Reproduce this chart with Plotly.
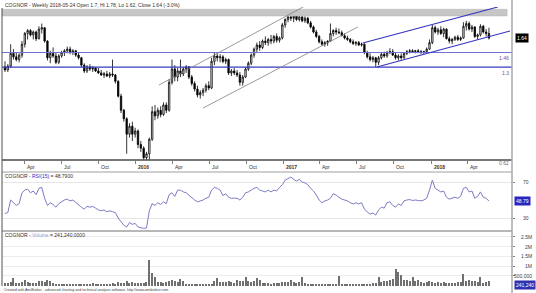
import math
import pandas as pd
import plotly.graph_objects as go

# ---------------- data ----------------
start_date = "2015-02-12"   # first weekly bar

opens = [1.30,1.27,1.31,1.45,1.41,1.38,1.43,1.56,1.70,1.74,
         1.68,1.72,1.63,1.76,1.78,1.60,1.40,1.45,1.42,1.35,
         1.42,1.46,1.48,1.50,1.46,1.48,1.43,1.40,1.32,1.26,
         1.30,1.28,1.29,1.26,1.24,1.22,1.23,1.21,1.23,1.22,
         1.16,1.03,0.92,0.86,0.76,0.81,0.76,0.78,0.70,0.68,
         0.63,0.65,0.73,0.91,0.88,0.92,0.89,0.96,0.92,1.15,
         1.28,1.20,1.26,1.23,1.28,1.30,1.20,1.14,1.09,1.04,
         1.06,1.08,1.12,1.10,1.36,1.42,1.40,1.41,1.36,1.38,
         1.24,1.26,1.24,1.22,1.15,1.20,1.28,1.34,1.43,1.50,
         1.55,1.52,1.60,1.58,1.62,1.60,1.66,1.61,1.64,1.82,
         1.90,1.94,1.92,1.95,1.90,1.94,1.88,1.92,1.85,1.79,
         1.72,1.66,1.59,1.56,1.58,1.60,1.70,1.74,1.72,1.71,
         1.67,1.64,1.62,1.59,1.57,1.58,1.55,1.56,1.46,1.41,
         1.38,1.40,1.35,1.40,1.44,1.42,1.46,1.47,1.43,1.40,
         1.42,1.40,1.45,1.47,1.48,1.47,1.48,1.47,1.46,1.47,
         1.50,1.58,1.78,1.72,1.75,1.70,1.76,1.63,1.60,1.62,
         1.65,1.62,1.64,1.80,1.84,1.76,1.79,1.66,1.68,1.80,
         1.72,1.70]
highs = [1.36,1.33,1.56,1.50,1.46,1.45,1.60,1.72,1.76,1.76,
         1.74,1.74,1.80,1.84,1.79,1.61,1.48,1.52,1.46,1.44,
         1.48,1.50,1.53,1.53,1.50,1.49,1.46,1.41,1.34,1.32,
         1.33,1.31,1.30,1.29,1.27,1.25,1.26,1.25,1.38,1.23,
         1.17,1.05,0.93,0.87,0.83,0.84,0.80,0.79,0.72,0.69,
         0.66,0.74,0.95,0.96,0.94,0.95,0.98,0.98,1.18,1.38,
         1.32,1.29,1.38,1.30,1.32,1.31,1.22,1.16,1.12,1.08,
         1.10,1.14,1.16,1.40,1.46,1.45,1.44,1.43,1.40,1.39,
         1.28,1.29,1.27,1.25,1.22,1.30,1.36,1.45,1.52,1.58,
         1.60,1.62,1.66,1.64,1.68,1.68,1.70,1.66,1.85,1.92,
         1.98,2.00,1.97,1.99,1.97,1.96,1.95,1.94,1.88,1.81,
         1.75,1.68,1.62,1.60,1.61,1.84,1.76,1.78,1.77,1.74,
         1.70,1.67,1.64,1.62,1.60,1.60,1.58,1.57,1.48,1.45,
         1.42,1.41,1.42,1.46,1.47,1.48,1.51,1.50,1.46,1.44,
         1.45,1.46,1.49,1.50,1.50,1.49,1.50,1.49,1.48,1.52,
         1.62,1.82,1.81,1.78,1.80,1.78,1.77,1.66,1.64,1.67,
         1.68,1.66,1.86,1.88,1.87,1.82,1.80,1.70,1.83,1.82,
         1.76,1.78]
lows = [1.25,1.25,1.29,1.38,1.36,1.35,1.40,1.52,1.62,1.66,
        1.62,1.60,1.62,1.70,1.58,1.37,1.34,1.40,1.33,1.33,
        1.40,1.42,1.45,1.44,1.43,1.41,1.38,1.30,1.24,1.24,
        1.26,1.25,1.25,1.23,1.21,1.19,1.20,1.19,1.20,1.14,
        1.02,0.90,0.84,0.65,0.74,0.72,0.74,0.68,0.66,0.62,
        0.62,0.62,0.72,0.85,0.86,0.87,0.88,0.90,0.91,1.13,
        1.16,1.16,1.20,1.21,1.24,1.18,1.12,1.07,1.02,1.01,
        1.03,1.06,1.08,1.09,1.32,1.36,1.35,1.34,1.33,1.22,
        1.21,1.22,1.20,1.12,1.12,1.19,1.26,1.32,1.40,1.46,
        1.48,1.50,1.55,1.54,1.56,1.57,1.58,1.58,1.62,1.78,
        1.86,1.88,1.86,1.88,1.87,1.86,1.85,1.83,1.77,1.70,
        1.64,1.57,1.54,1.53,1.54,1.59,1.66,1.68,1.69,1.66,
        1.62,1.60,1.57,1.55,1.54,1.54,1.53,1.44,1.39,1.36,
        1.35,1.30,1.32,1.38,1.40,1.40,1.44,1.42,1.38,1.37,
        1.38,1.39,1.43,1.45,1.46,1.45,1.46,1.44,1.44,1.45,
        1.49,1.56,1.70,1.68,1.68,1.65,1.62,1.57,1.56,1.60,
        1.60,1.60,1.63,1.74,1.74,1.72,1.64,1.62,1.66,1.70,
        1.66,1.62]
closes = [1.27,1.31,1.45,1.41,1.38,1.43,1.56,1.70,1.74,1.68,
          1.72,1.63,1.76,1.78,1.60,1.40,1.45,1.42,1.35,1.42,
          1.46,1.48,1.50,1.46,1.48,1.43,1.40,1.32,1.26,1.30,
          1.28,1.29,1.26,1.24,1.22,1.23,1.21,1.23,1.22,1.16,
          1.03,0.92,0.86,0.76,0.81,0.76,0.78,0.70,0.68,0.63,
          0.65,0.73,0.91,0.88,0.92,0.89,0.96,0.92,1.15,1.28,
          1.20,1.26,1.23,1.28,1.30,1.20,1.14,1.09,1.04,1.06,
          1.08,1.12,1.10,1.36,1.42,1.40,1.41,1.36,1.38,1.24,
          1.26,1.24,1.22,1.15,1.20,1.28,1.34,1.43,1.50,1.55,
          1.52,1.60,1.58,1.62,1.60,1.66,1.61,1.64,1.82,1.90,
          1.94,1.92,1.95,1.90,1.94,1.88,1.92,1.85,1.79,1.72,
          1.66,1.59,1.56,1.58,1.60,1.70,1.74,1.72,1.71,1.67,
          1.64,1.62,1.59,1.57,1.58,1.55,1.56,1.46,1.41,1.38,
          1.40,1.35,1.40,1.44,1.42,1.46,1.47,1.43,1.40,1.42,
          1.40,1.45,1.47,1.48,1.47,1.48,1.47,1.46,1.47,1.50,
          1.58,1.78,1.72,1.75,1.70,1.76,1.63,1.60,1.62,1.65,
          1.62,1.64,1.80,1.84,1.76,1.79,1.66,1.68,1.80,1.72,
          1.70,1.64]

rsi15 = [35,36,50,47,44,46,58,61,62,58,
         60,56,63,64,52,44,47,45,42,46,
         48,50,51,49,50,47,45,42,40,43,
         42,43,41,39,38,39,37,38,37,36,
         30,26,22,20,25,23,24,20,19.5,18.5,
         19,38,46,44,47,45,48,46,56,58,
         54,61,61,59,58,55,52,50,48,49,
         50,52,53,61,64,63,61,55,57,53,
         52,52,52,50,53,58,59,61,63,64,
         61,60,59,61,59,61,60,64,67,72,
         74,75.5,73,71,73,70,69,67,63,60,
         55.6,50,47,49,50,52,57,55.6,53,51,
         50,49,47,45.6,47,45.6,47,40,36.7,34.4,
         35.5,33.3,39,42,41,47,48,44,42,45.6,
         44,49,50,50.5,49.5,50,49.5,49,50,52,
         61,72,63,61,59,60,53,51,52,53,
         52,54,63,64,59,60,52,54,59,53,
         52,48.79]

volume_k = [150,120,200,360,150,120,180,260,200,140,
            120,150,220,250,200,260,230,150,100,80,
            60,70,50,60,80,70,60,80,90,60,
            100,120,90,70,60,80,70,60,110,90,
            170,150,120,210,130,160,120,150,110,130,
            200,1330,640,460,160,200,150,180,230,260,
            220,200,310,230,90,70,60,50,70,60,
            40,80,60,90,220,400,180,200,160,220,
            190,150,280,250,230,430,250,200,220,400,
            260,150,130,120,100,140,110,150,200,180,
            200,260,180,150,170,430,120,60,80,70,
            60,50,90,60,70,90,60,50,480,40,
            60,50,40,70,50,60,40,80,90,100,
            110,150,450,190,250,210,280,320,830,700,
            550,260,300,230,430,220,260,180,150,160,
            240,180,150,160,140,170,130,110,150,120,
            160,200,590,230,300,210,250,180,430,150,
            160,241.24]

# horizontal levels and trend lines (date, price)
level_high = 1.46
level_low = 1.3
zone_lo, zone_hi = 1.955, 2.062
zone_end = "2018-07-08"
grey_upper = (["2016-02-28", "2017-03-14"], [1.126, 2.19])
grey_lower = (["2016-06-16", "2017-07-04"], [0.937, 1.791])
blue_upper = (["2017-07-16", "2018-06-15"], [1.576, 2.10])
blue_lower = (["2017-08-20", "2018-07-15"], [1.30, 1.734])

tick_dates = ["2015-04-01", "2015-07-01", "2015-10-01", "2016-01-01",
              "2016-04-01", "2016-07-01", "2016-10-01", "2017-01-01",
              "2017-04-01", "2017-07-01", "2017-10-01", "2018-01-01",
              "2018-04-01"]
tick_labels = ["Apr", "Jul", "Oct", "<b>2016</b>", "Apr", "Jul", "Oct",
               "<b>2017</b>", "Apr", "Jul", "Oct", "<b>2018</b>", "Apr"]
vol_tick_vals = [500, 1000, 1500, 2000, 2500]
vol_tick_text = ["500,000", "1M", "1.5M", "2M", "2.5M"]
rsi_levels = [70, 30]

title_main = "COGNOR - Weekly 2018-05-24 Open 1.7, Hi 1.78, Lo 1.62, Close 1.64 (-3.0%)"
footer = ("Created with AmiBroker - advanced charting and technical analysis "
          "software. http://www.amibroker.com")

# ---------------- layout helpers ----------------
W, H = 536, 293
ML, MR = 2, 24
PW = W - ML - MR


def py(p):
    return 1 - p / H


def px(p):
    return (p - ML) / PW


FONT = "Liberation Sans, Arial, sans-serif"
dates = pd.date_range(start_date, periods=len(closes), freq="7D")
t0 = pd.Timestamp(start_date)
x_range = [t0 - pd.Timedelta(days=7.4), t0 + pd.Timedelta(days=179.15 * 7)]

fig = go.Figure()

# resistance zone
fig.add_trace(go.Scatter(
    x=[x_range[0], zone_end, zone_end, x_range[0], x_range[0]],
    y=[zone_lo, zone_lo, zone_hi, zone_hi, zone_lo],
    fill="toself", fillcolor="#c6c6c6", mode="lines",
    line=dict(color="#b4b4b4", width=0.5), hoverinfo="skip",
    xaxis="x", yaxis="y"))

# horizontal levels
fig.add_trace(go.Scatter(x=x_range, y=[level_high, level_high], mode="lines",
                         line=dict(color="#7070d8", width=1), xaxis="x", yaxis="y"))
fig.add_trace(go.Scatter(x=x_range, y=[level_low, level_low], mode="lines",
                         line=dict(color="#3a3ac8", width=1.3), xaxis="x", yaxis="y"))

# trend lines
for (xs, ys), col, w in [(grey_upper, "#808080", 0.8), (grey_lower, "#808080", 0.8),
                         (blue_upper, "#3434c0", 1.1), (blue_lower, "#3434c0", 1.1)]:
    fig.add_trace(go.Scatter(x=xs, y=ys, mode="lines", line=dict(color=col, width=w),
                             xaxis="x", yaxis="y"))

# candles
fig.add_trace(go.Candlestick(
    x=dates, open=opens, high=highs, low=lows, close=closes,
    increasing=dict(fillcolor="white", line=dict(color="black", width=0.8)),
    decreasing=dict(fillcolor="black", line=dict(color="black", width=0.8)),
    whiskerwidth=0, xaxis="x", yaxis="y"))

# RSI
fig.add_trace(go.Scatter(x=dates, y=rsi15, mode="lines",
                         line=dict(color="#7c7cc4", width=1), xaxis="x2", yaxis="y2"))

# Volume
fig.add_trace(go.Bar(x=dates, y=volume_k, marker=dict(color="#707070", line=dict(width=0)),
                     width=2.6 * 86400000, xaxis="x3", yaxis="y3"))

# ---------------- axes ----------------
main_dom = [py(160), py(7)]
rsi_dom = [py(231), py(172)]
vol_dom = [py(286), py(231)]

xcommon = dict(range=x_range, type="date", showgrid=False, zeroline=False,
               showline=False, fixedrange=True)
fig.update_layout(
    xaxis=dict(**xcommon, domain=[0, 1], anchor="y", tickvals=tick_dates,
               showticklabels=False, ticks="outside", ticklen=3, tickwidth=1,
               tickcolor="#808080", rangeslider=dict(visible=False)),
    xaxis2=dict(**xcommon, domain=[0, 1], anchor="y2", showticklabels=False, ticks=""),
    xaxis3=dict(**xcommon, domain=[0, 1], anchor="y3", showticklabels=False, ticks=""),
    yaxis=dict(domain=main_dom, type="log",
               range=[math.log10(0.6185), math.log10(2.10)],
               showgrid=False, zeroline=False, showticklabels=False, ticks=""),
    yaxis2=dict(domain=rsi_dom, range=[15.6, 81.1], side="right",
                tickvals=rsi_levels, showticklabels=False, ticks="outside",
                ticklen=2, tickcolor="#808080", showgrid=True,
                gridcolor="#e6e6e6", gridwidth=1, zeroline=False),
    yaxis3=dict(domain=vol_dom, range=[-25.6, 2795], side="right",
                tickvals=vol_tick_vals, showticklabels=False, ticks="outside",
                ticklen=2, tickcolor="#808080", showgrid=True,
                gridcolor="#ececec", gridwidth=1, zeroline=False),
    width=W, height=H, margin=dict(l=ML, r=MR, t=0, b=0),
    paper_bgcolor="white", plot_bgcolor="white", showlegend=False,
    bargap=0, font=dict(family=FONT, size=5, color="#202020"),
)

# ---------------- frame lines ----------------
shapes = [
    dict(type="line", xref="paper", yref="paper", x0=px(2), x1=px(512), y0=py(160), y1=py(160),
         line=dict(color="#4a4a4a", width=1.6)),
    dict(type="line", xref="paper", yref="paper", x0=px(2), x1=px(512), y0=py(172), y1=py(172),
         line=dict(color="#a0a0a0", width=1)),
    dict(type="line", xref="paper", yref="paper", x0=px(2), x1=px(512), y0=py(231), y1=py(231),
         line=dict(color="#707070", width=1)),
    dict(type="line", xref="paper", yref="paper", x0=px(2), x1=px(2), y0=py(8), y1=py(286),
         line=dict(color="#505050", width=1)),
    dict(type="line", xref="paper", yref="paper", x0=px(512), x1=px(512), y0=py(0), y1=py(293),
         line=dict(color="#a8a8a8", width=1.5)),
]
fig.update_layout(shapes=shapes)

# ---------------- texts ----------------
ann = []
ann.append(dict(text=title_main, x=px(3), y=py(5), xref="paper", yref="paper",
                xanchor="left", yanchor="middle", showarrow=False,
                font=dict(size=5, color="#303030")))
ann.append(dict(text="COGNOR - <span style='color:#3030c0'>RSI(15)</span> = 48.7900",
                x=px(3), y=py(175.5), xref="paper", yref="paper", xanchor="left",
                yanchor="middle", showarrow=False, font=dict(size=5, color="#303030")))
ann.append(dict(text="COGNOR - <span style='color:#90a4cc'>Volume</span> = 241,240.0000",
                x=px(3), y=py(234.5), xref="paper", yref="paper", xanchor="left",
                yanchor="middle", showarrow=False, font=dict(size=5, color="#303030")))
ann.append(dict(text=footer, x=px(2), y=py(290), xref="paper", yref="paper",
                xanchor="left", yanchor="middle", showarrow=False,
                font=dict(size=3.6, color="#404040")))

# x labels (left aligned after each quarter tick)
for d, t in zip(tick_dates, tick_labels):
    ann.append(dict(text=t, x=pd.Timestamp(d) + pd.Timedelta(days=1), y=py(167),
                    xref="x", yref="paper", xanchor="left", yanchor="middle",
                    showarrow=False, font=dict(size=5, color="#303030")))

# price level labels
for v, col in [(level_high, "#5a5aa8"), (level_low, "#5a5aa8")]:
    ann.append(dict(text=f"{v:g}", x=px(511), y=math.log10(v), xref="paper", yref="y",
                    xanchor="right", yanchor="top", showarrow=False, yshift=-0.5,
                    font=dict(size=5, color=col)))
ann.append(dict(text="0.62", x=px(511), y=py(163), xref="paper", yref="paper",
                xanchor="right", yanchor="middle", showarrow=False,
                font=dict(size=5, color="#707070")))
ann.append(dict(text=f"{closes[-1]:.2f}", x=px(515), y=math.log10(closes[-1]),
                xref="paper", yref="y", xanchor="left", yanchor="middle",
                showarrow=False, bgcolor="black", borderpad=1,
                font=dict(size=5, color="white")))

# RSI labels
for v in rsi_levels:
    ann.append(dict(text=str(v), x=px(531), y=v, xref="paper", yref="y2",
                    xanchor="right", yanchor="middle", showarrow=False,
                    font=dict(size=5, color="#404040")))
ann.append(dict(text=f"{rsi15[-1]:.2f}", x=px(514), y=rsi15[-1], xref="paper", yref="y2",
                xanchor="left", yanchor="middle", showarrow=False, bgcolor="#2626c0",
                borderpad=1, font=dict(size=5, color="white")))

# Volume labels
for v, t in zip(vol_tick_vals, vol_tick_text):
    ann.append(dict(text=t, x=px(534), y=v, xref="paper", yref="y3",
                    xanchor="right", yanchor="middle", showarrow=False,
                    font=dict(size=5, color="#404040")))
ann.append(dict(text="241,240", x=px(514), y=py(284.5), xref="paper", yref="paper",
                xanchor="left", yanchor="middle", showarrow=False, bgcolor="#3030b0",
                borderpad=1, font=dict(size=5, color="white")))

fig.update_layout(annotations=ann)
fig.write_html("out.html")
